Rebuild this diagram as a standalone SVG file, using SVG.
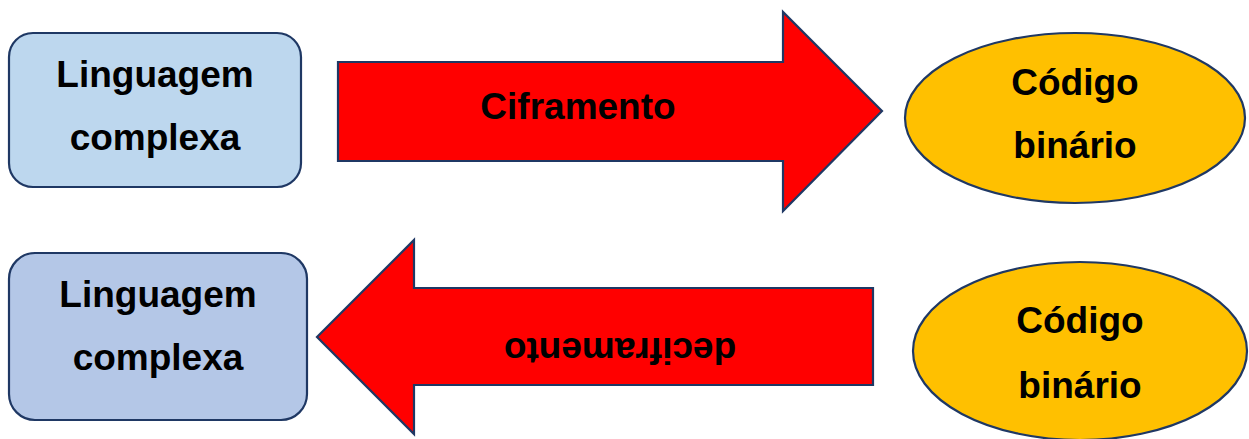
<svg xmlns="http://www.w3.org/2000/svg" width="1249" height="439" viewBox="0 0 1249 439">
  <style>
    .lbl { font-family: "Liberation Sans", Arial, sans-serif; font-weight: bold; font-size: 37px; fill: #000; text-anchor: middle; }
    .edge { stroke: #1F3864; stroke-width: 2.2; stroke-linejoin: miter; }
    .arrow { fill: #FF0000; }
  </style>
  <rect width="1249" height="439" fill="#FFFFFF"/>

  <g id="lang-top">
    <rect class="edge" x="9" y="33" width="292" height="154" rx="24" ry="24" fill="#BDD7EE"/>
    <text class="lbl" x="155" y="87">Linguagem</text>
    <text class="lbl" x="155" y="150">complexa</text>
  </g>

  <g id="binary-top">
    <ellipse class="edge" cx="1075" cy="118" rx="170" ry="85" fill="#FFC000"/>
    <text class="lbl" x="1075" y="95">Código</text>
    <text class="lbl" x="1075" y="158">binário</text>
  </g>

  <g id="lang-bottom">
    <rect class="edge" x="9" y="253" width="298" height="167" rx="26" ry="26" fill="#B4C7E7"/>
    <text class="lbl" x="158" y="307">Linguagem</text>
    <text class="lbl" x="158" y="370">complexa</text>
  </g>

  <g id="binary-bottom">
    <ellipse class="edge" cx="1080" cy="351" rx="167" ry="89" fill="#FFC000"/>
    <text class="lbl" x="1080" y="333">Código</text>
    <text class="lbl" x="1080" y="398">binário</text>
  </g>

  <g id="connectors">
    <g id="cifra">
      <path class="edge arrow" d="M338,62 L783,62 L783,12 L882,111 L783,211 L783,161 L338,161 Z"/>
      <text class="lbl" x="578" y="119">Ciframento</text>
    </g>
    <g id="decifra">
      <path class="edge arrow" d="M873,288 L414,288 L414,240 L317,337 L414,434 L414,385 L873,385 Z"/>
      <text class="lbl" transform="translate(620,338) rotate(180)" x="0" y="0">deciframento</text>
    </g>
  </g>
</svg>
